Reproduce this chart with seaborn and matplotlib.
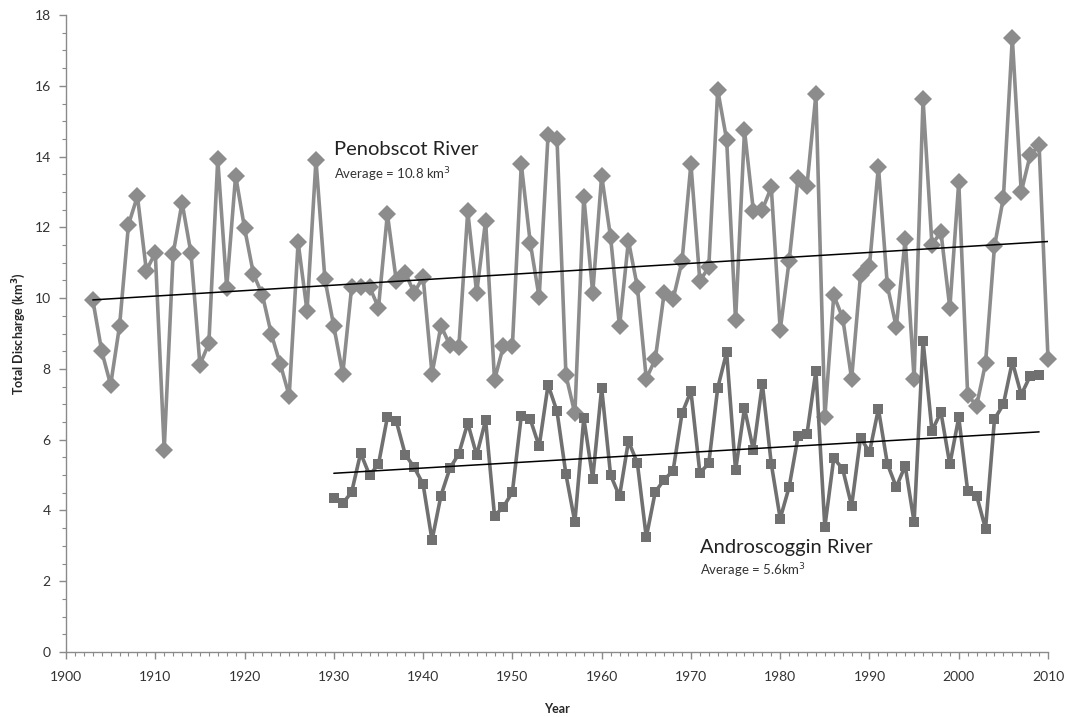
import numpy as np
import pandas as pd
import seaborn as sns
from matplotlib import pyplot as plt
from matplotlib.ticker import MultipleLocator

sns.set_style('white')
plt.rcParams['font.family'] = ['Lato', 'DejaVu Sans']

# Penobscot River, 1903-2010 (km3)
pen_years = list(range(1903, 2011))
pen_values = [9.95, 8.50, 7.55, 9.22, 12.08, 12.88, 10.78,                    # 1903-09
              11.28, 5.72, 11.25, 12.70, 11.27, 8.12, 8.72, 13.93, 10.30, 13.46,  # 1910s
              11.98, 10.68, 10.09, 8.98, 8.14, 7.24, 11.58, 9.64, 13.90, 10.54,  # 1920s
              9.20, 7.86, 10.32, 10.32, 10.32, 9.73, 12.38, 10.48, 10.72, 10.15,  # 1930s
              10.60, 7.86, 9.22, 8.67, 8.62, 12.45, 10.15, 12.19, 7.69, 8.65,    # 1940s
              8.65, 13.78, 11.57, 10.02, 14.62, 14.50, 7.82, 6.74, 12.87, 10.14,  # 1950s
              13.46, 11.72, 9.20, 11.62, 10.32, 7.72, 8.27, 10.14, 9.97, 11.04,  # 1960s
              13.79, 10.48, 10.88, 15.88, 14.48, 9.37, 14.74, 12.46, 12.50, 13.13,  # 1970s
              9.10, 11.05, 13.40, 13.18, 15.76, 6.63, 10.08, 9.44, 7.72, 10.66,  # 1980s
              10.92, 13.72, 10.36, 9.18, 11.66, 7.72, 15.62, 11.50, 11.88, 9.72,  # 1990s
              13.28, 7.26, 6.96, 8.16, 11.46, 12.84, 17.35, 13.00, 14.04, 14.32,  # 2000s
              8.28]                                                            # 2010

# Androscoggin River, 1930-2009 (km3)
andro_years = list(range(1930, 2010))
andro_values = [4.35, 4.20, 4.52, 5.62, 5.00, 5.30, 6.64, 6.52, 5.58, 5.22,  # 1930s
                4.74, 3.16, 4.42, 5.19, 5.60, 6.47, 5.56, 6.55, 3.85, 4.10,  # 1940s
                4.52, 6.68, 6.58, 5.81, 7.55, 6.80, 5.02, 3.67, 6.61, 4.90,  # 1950s
                7.46, 5.00, 4.40, 5.96, 5.34, 3.24, 4.52, 4.87, 5.12, 6.74,  # 1960s
                7.37, 5.06, 5.33, 7.46, 8.47, 5.13, 6.89, 5.70, 7.58, 5.32,  # 1970s
                3.77, 4.66, 6.09, 6.16, 7.95, 3.53, 5.48, 5.17, 4.13, 6.06,  # 1980s
                5.64, 6.87, 5.32, 4.66, 5.26, 3.67, 8.80, 6.25, 6.78, 5.30,  # 1990s
                6.63, 4.55, 4.42, 3.48, 6.58, 7.00, 8.20, 7.27, 7.80, 7.84]  # 2000s

# linear trend lines as drawn in the chart (end points)
pen_trend_years = [1903, 2010]
pen_trend_values = [9.95, 11.60]
andro_trend_years = [1930, 2009]
andro_trend_values = [5.05, 6.22]

pen = pd.DataFrame({'year': pen_years, 'discharge': pen_values})
andro = pd.DataFrame({'year': andro_years, 'discharge': andro_values})

fig = plt.figure(figsize=(10.68, 7.17), dpi=100)
ax = fig.add_axes([0.0618, 0.0907, 0.9195, 0.8883])

sns.lineplot(data=pen, x='year', y='discharge', ax=ax, color='#8c8c8c', lw=2.6,
             marker='D', markersize=9, markeredgewidth=0, markerfacecolor='#8c8c8c',
             clip_on=False)
sns.lineplot(data=andro, x='year', y='discharge', ax=ax, color='#707070', lw=2.6,
             marker='s', markersize=7.5, markeredgewidth=0, markerfacecolor='#707070',
             clip_on=False)
sns.lineplot(x=pen_trend_years, y=pen_trend_values, ax=ax, color='black', lw=1.1)
sns.lineplot(x=andro_trend_years, y=andro_trend_values, ax=ax, color='black', lw=1.1)

ax.text(1930.0, 14.2, 'Penobscot River', fontsize=14.5, color='#222222', va='center')
ax.text(1930.0, 13.5, 'Average = 10.8 km$^3$', fontsize=9.5, color='#333333', va='center')
ax.text(1971.0, 2.95, 'Androscoggin River', fontsize=14.5, color='#222222', va='center')
ax.text(1971.0, 2.3, 'Average = 5.6km$^3$', fontsize=9.5, color='#333333', va='center')

ax.set_xlim(1900, 2010)
ax.set_ylim(0, 18)
ax.xaxis.set_major_locator(MultipleLocator(10))
ax.xaxis.set_minor_locator(MultipleLocator(1))
ax.yaxis.set_major_locator(MultipleLocator(2))
ax.yaxis.set_minor_locator(MultipleLocator(0.5))

for side in ['top', 'right']:
    ax.spines[side].set_visible(False)
for side in ['left', 'bottom']:
    ax.spines[side].set_color('#8a8a8a')
    ax.spines[side].set_linewidth(1.0)

ax.tick_params(axis='both', which='both', bottom=True, left=True)
ax.tick_params(axis='y', which='major', direction='out', length=5, width=1,
               color='#8a8a8a', labelsize=10, labelcolor='#333333', pad=6)
ax.tick_params(axis='y', which='minor', direction='out', length=3, width=0.8,
               color='#8a8a8a')
ax.tick_params(axis='x', which='minor', direction='out', length=3, width=0.8,
               color='#8a8a8a')
ax.tick_params(axis='x', which='major', direction='out', length=5, width=1,
               color='#8a8a8a', labelsize=10, labelcolor='#333333', pad=9)

ax.set_xlabel('Year', fontsize=9, fontweight='bold', labelpad=14)
ax.set_ylabel('Total Discharge (km$^\\mathbf{3}$)', fontsize=9, fontweight='bold', labelpad=5)
ax.grid(False)

fig.savefig('out.png', dpi=100)
